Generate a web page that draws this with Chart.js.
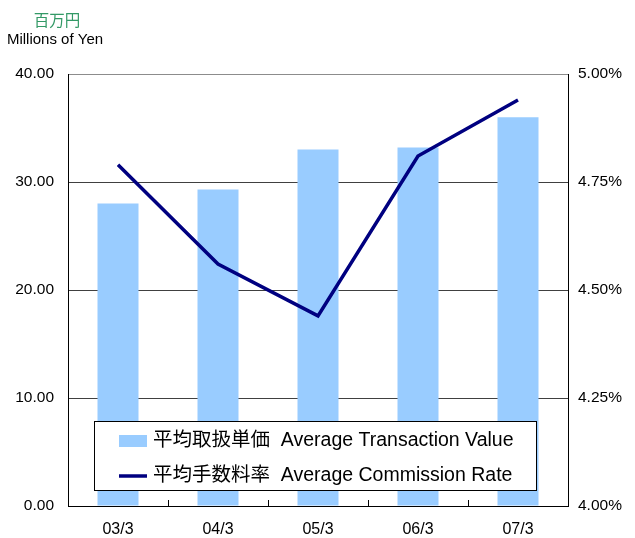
<!DOCTYPE html>
<html>
<head>
<meta charset="utf-8">
<script src="https://cdn.jsdelivr.net/npm/chart.js@4"></script>
<style>
  html, body { margin: 0; padding: 0; background: #fff; }
  #wrap { width: 635px; height: 538px; position: relative; }
</style>
</head>
<body>
<div id="wrap"><canvas id="chart" width="635" height="538"></canvas></div>
<script>
// data
const categories = ['03/3', '04/3', '05/3', '06/3', '07/3'];
const transactionValue = [28.0, 29.3, 33.0, 33.2, 36.0];     // millions of yen
const commissionRate = [4.79, 4.56, 4.44, 4.81, 4.94];        // percent
const leftTicks = [0, 10, 20, 30, 40];
const rightTicks = [4.0, 4.25, 4.5, 4.75, 5.0];

const FONT = '"Liberation Sans", Arial, "Noto Sans CJK JP", sans-serif';

// unit label in the top left corner
const unitLabel = {
  id: 'unitLabel',
  afterDraw(chart) {
    const ctx = chart.ctx;
    ctx.save();
    ctx.textAlign = 'center';
    ctx.textBaseline = 'middle';
    ctx.font = '15.5px ' + FONT;
    ctx.fillStyle = '#339966';
    ctx.fillText('百万円', 57, 22);
    ctx.font = '15px ' + FONT;
    ctx.fillStyle = '#000';
    ctx.fillText('Millions of Yen', 55, 40);
    ctx.restore();
  }
};

// small inward tick marks between the categories
const betweenTicks = {
  id: 'betweenTicks',
  afterDraw(chart) {
    const x = chart.scales.x;
    const ctx = chart.ctx;
    ctx.save();
    ctx.strokeStyle = '#000';
    ctx.lineWidth = 1;
    for (let i = 1; i < categories.length; i++) {
      const px = Math.round((x.getPixelForTick(i - 1) + x.getPixelForTick(i)) / 2) + 0.5;
      ctx.beginPath();
      ctx.moveTo(px, x.top);
      ctx.lineTo(px, x.top - 6);
      ctx.stroke();
    }
    ctx.restore();
  }
};

// boxed legend drawn inside the plot
const boxLegend = {
  id: 'boxLegend',
  afterDraw(chart) {
    const ctx = chart.ctx;
    const area = chart.chartArea;
    const left = area.left + 26, top = area.top + 347;
    const w = 442, h = 69;
    ctx.save();
    ctx.fillStyle = '#fff';
    ctx.fillRect(left, top, w, h);
    ctx.strokeStyle = '#000';
    ctx.lineWidth = 1;
    ctx.strokeRect(left + 0.5, top + 0.5, w, h);
    ctx.font = '19.5px ' + FONT;
    ctx.textBaseline = 'middle';
    ctx.textAlign = 'left';
    const rows = [top + 20, top + 55];
    chart.data.datasets.forEach((ds, i) => {
      const y = rows[i];
      if (ds.type === 'bar') {
        ctx.fillStyle = ds.backgroundColor;
        ctx.fillRect(left + 25, y - 6, 28, 12);
      } else {
        ctx.strokeStyle = ds.borderColor;
        ctx.lineWidth = 3.5;
        ctx.beginPath();
        ctx.moveTo(left + 25, y);
        ctx.lineTo(left + 53, y);
        ctx.stroke();
      }
      ctx.fillStyle = '#000';
      ctx.fillText(ds.label, left + 59, y);
    });
    ctx.restore();
  }
};

new Chart(document.getElementById('chart'), {
  data: {
    labels: categories,
    datasets: [
      {
        type: 'bar',
        label: '平均取扱単価  Average Transaction Value',
        data: transactionValue,
        yAxisID: 'y',
        backgroundColor: '#99ccff',
        barPercentage: 0.41,
        categoryPercentage: 1,
        order: 1
      },
      {
        type: 'line',
        label: '平均手数料率  Average Commission Rate',
        data: commissionRate,
        yAxisID: 'y1',
        borderColor: '#000080',
        borderWidth: 3.5,
        pointRadius: 0,
        tension: 0,
        order: 0
      }
    ]
  },
  options: {
    responsive: false,
    animation: false,
    devicePixelRatio: 1,
    layout: { padding: { top: 74, left: 0, right: 0, bottom: 0 } },
    plugins: {
      legend: { display: false },
      tooltip: { enabled: false }
    },
    scales: {
      x: {
        grid: { display: false, drawTicks: false },
        border: { display: true, color: '#000', width: 1 },
        ticks: { color: '#000', font: { family: FONT, size: 16 }, padding: 14 },
        afterFit: s => { s.height = 32; }
      },
      y: {
        position: 'left',
        min: 0,
        max: 40,
        afterBuildTicks: s => { s.ticks = leftTicks.map(v => ({ value: v })); },
        grid: {
          drawTicks: false,
          color: c => (c.tick && c.tick.value === 40 ? '#8c8c8c' : '#404040'),
          lineWidth: 1
        },
        border: { display: true, color: '#000', width: 1 },
        ticks: {
          color: '#000',
          font: { family: FONT, size: 15.5 },
          padding: 14,
          callback: v => v.toFixed(2)
        },
        afterFit: s => { s.width = 68; }
      },
      y1: {
        position: 'right',
        min: 4,
        max: 5,
        afterBuildTicks: s => { s.ticks = rightTicks.map(v => ({ value: v })); },
        grid: { drawOnChartArea: false, drawTicks: false },
        border: { display: true, color: '#000', width: 1 },
        ticks: {
          color: '#000',
          font: { family: FONT, size: 15.5 },
          padding: 10,
          callback: v => v.toFixed(2) + '%'
        },
        afterFit: s => { s.width = 67; }
      }
    }
  },
  plugins: [unitLabel, betweenTicks, boxLegend]
});
</script>
</body>
</html>
